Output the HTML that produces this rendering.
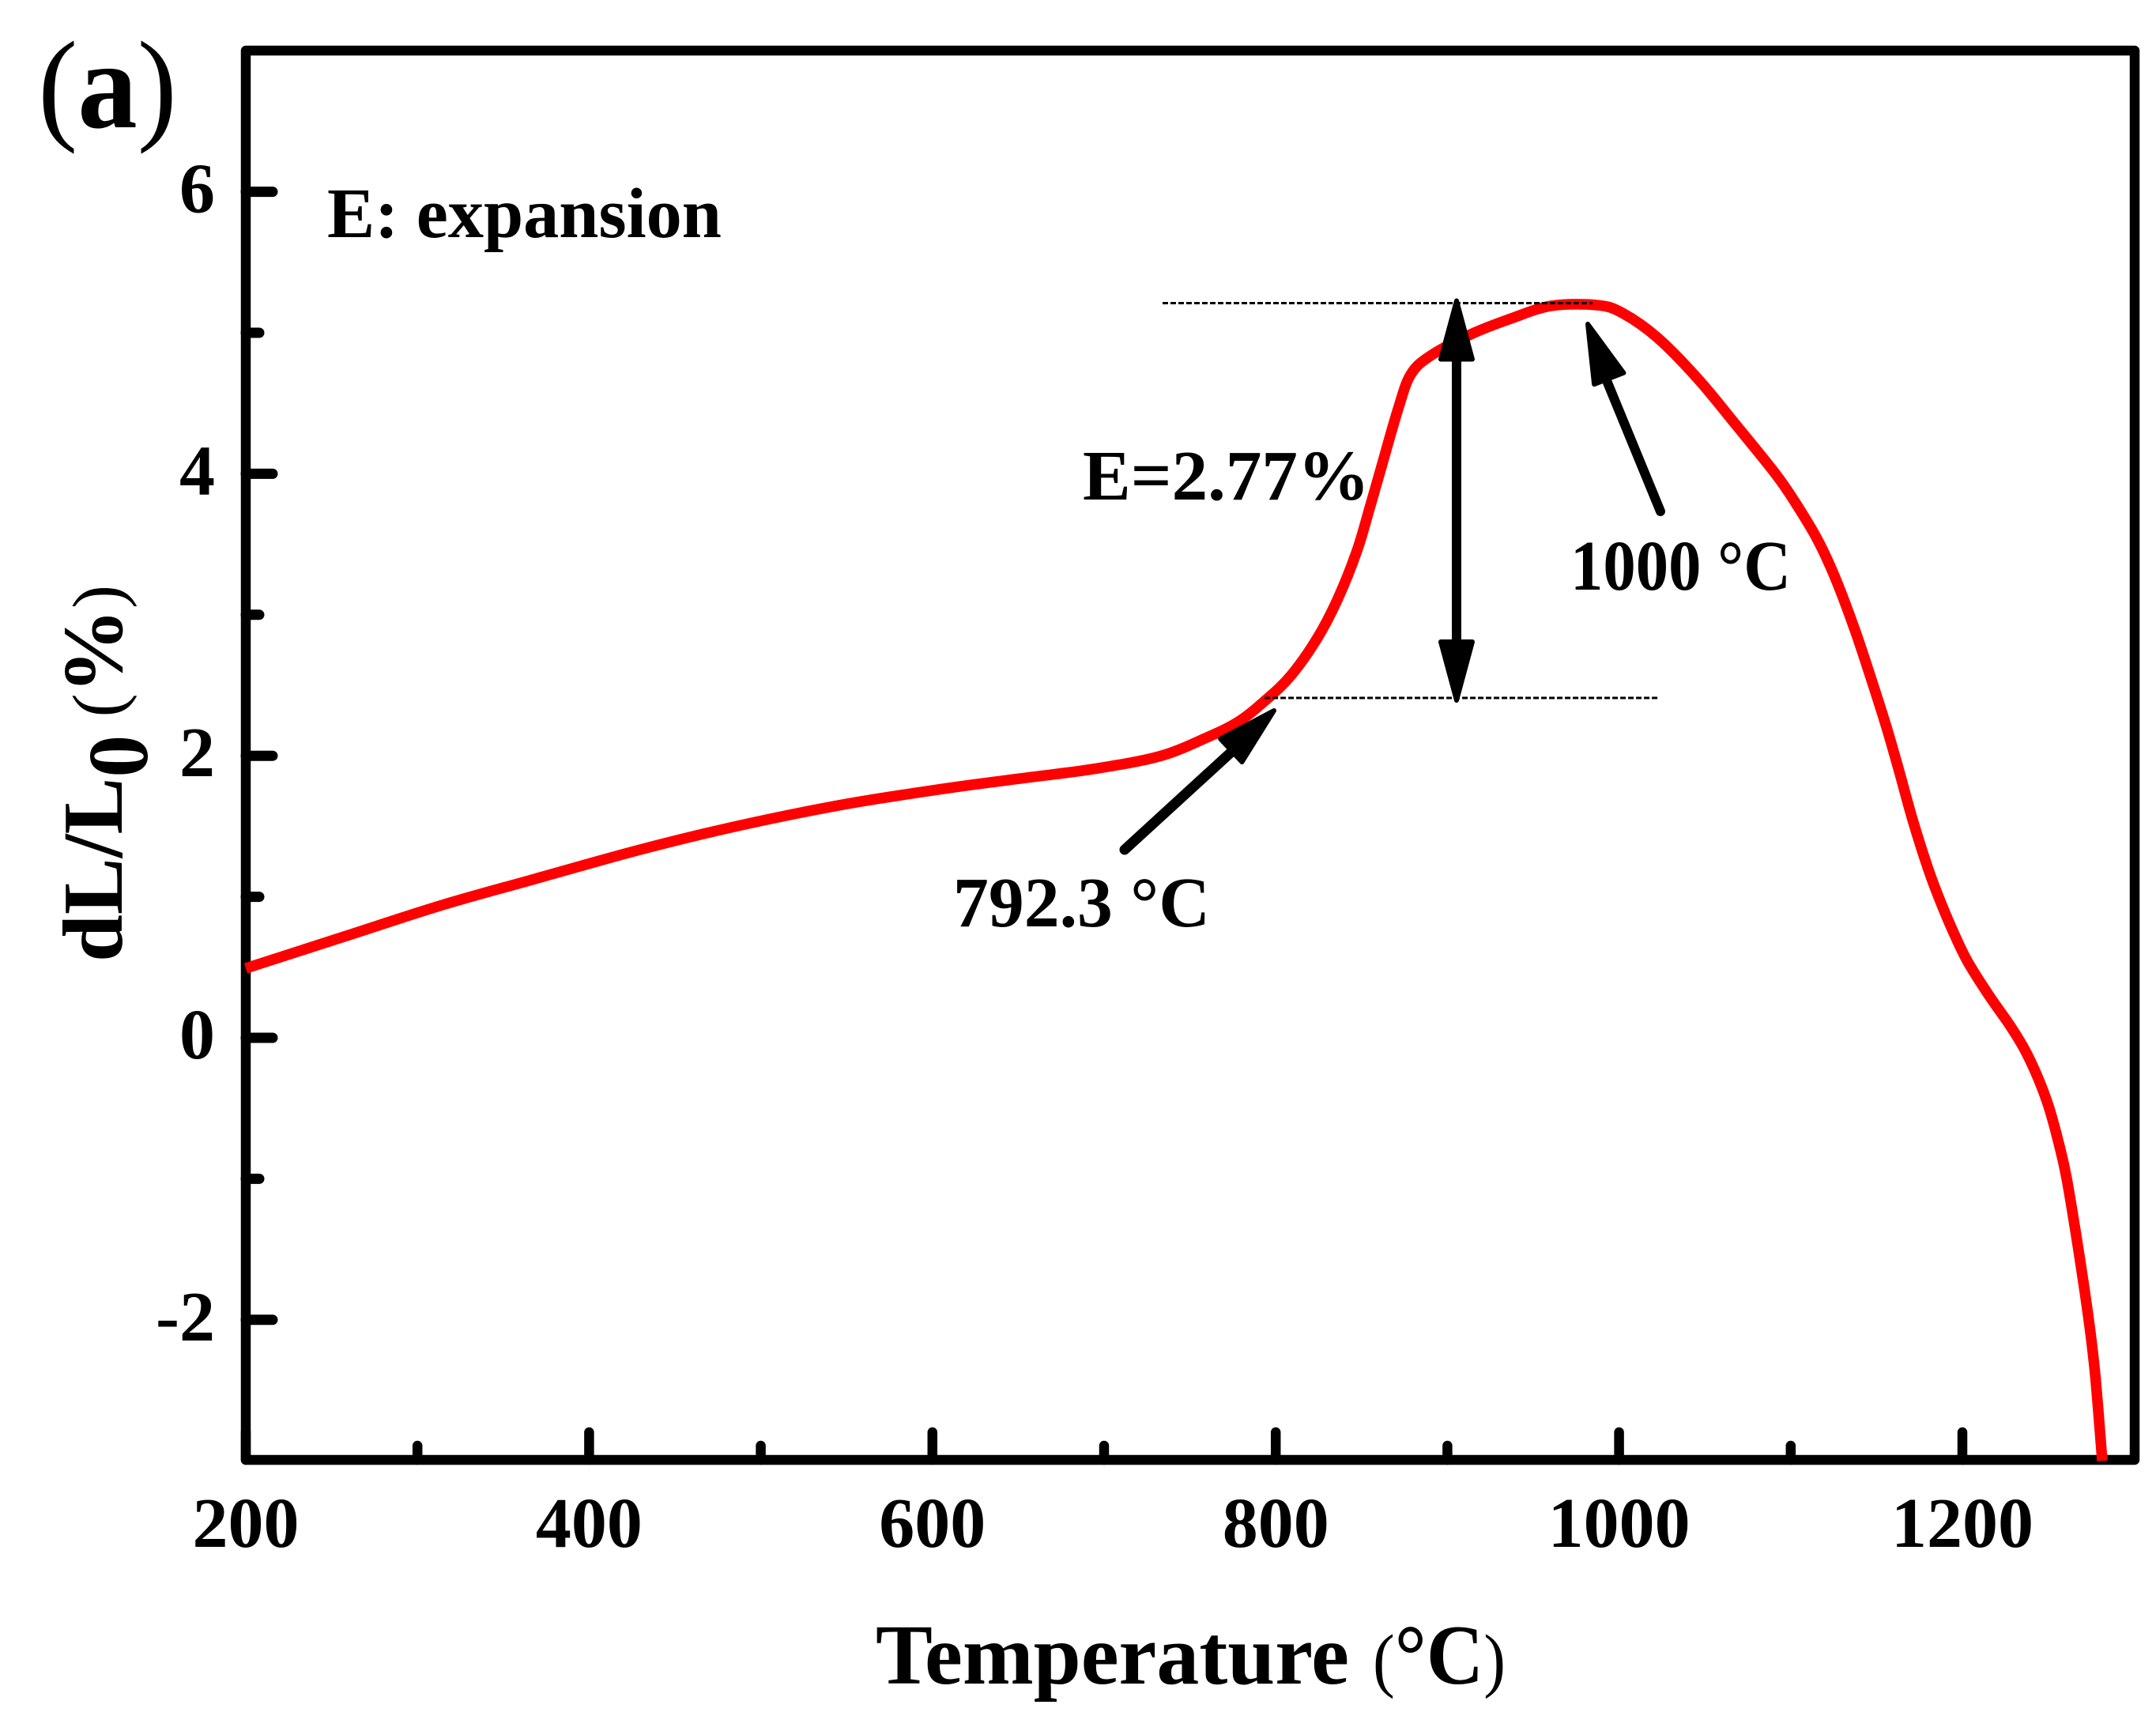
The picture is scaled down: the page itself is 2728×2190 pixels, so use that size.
<!DOCTYPE html>
<html>
<head>
<meta charset="utf-8">
<style>
html,body{margin:0;padding:0;background:#fff;}
svg{display:block;}
text{font-family:"Liberation Serif",serif;font-weight:bold;fill:#000;}
</style>
</head>
<body>
<svg id="chart" width="2728" height="2190" viewBox="0 0 2728 2190" xmlns="http://www.w3.org/2000/svg">
<rect x="0" y="0" width="2728" height="2190" fill="#fff"/>
<g id="ticks"></g>
<g id="tickLabels"></g>
<rect x="311" y="64" width="2390" height="1783" fill="none" stroke="#000" stroke-width="12.5" stroke-linejoin="round"/>
<path id="curve" fill="none" stroke="#ff0000" stroke-width="13.5" stroke-linejoin="round"/>
<g id="annotations"></g>
<text x="48" y="161" font-size="158" textLength="176" lengthAdjust="spacingAndGlyphs"><tspan font-weight="normal">(</tspan>a<tspan font-weight="normal">)</tspan></text>
<text x="414" y="300" font-size="90" textLength="499" lengthAdjust="spacingAndGlyphs">E: expansion</text>
<text x="1370" y="632" font-size="90" textLength="363" lengthAdjust="spacingAndGlyphs">E=2.77%</text>
<text x="1987" y="746" font-size="90" textLength="279" lengthAdjust="spacingAndGlyphs">1000 °C</text>
<text x="1206" y="1172" font-size="90" textLength="325" lengthAdjust="spacingAndGlyphs">792.3 °C</text>
<text x="1108" y="2130" font-size="108" textLength="599" lengthAdjust="spacingAndGlyphs">Temperature</text>
<text x="1737" y="2130" font-size="108" textLength="168" lengthAdjust="spacingAndGlyphs"><tspan font-size="90" font-weight="normal">(</tspan>°C<tspan font-size="90" font-weight="normal">)</tspan></text>
<text transform="translate(154,1217) rotate(-90)" font-size="108" textLength="477" lengthAdjust="spacingAndGlyphs">dL/L<tspan dy="32">0</tspan><tspan dy="-32" font-size="90" font-weight="normal"> (</tspan>%<tspan font-size="90" font-weight="normal">)</tspan></text>
</svg>
<script>
var temperatures = [200,257.1,314.6,368.5,429.7,486.4,548,609.3,655.3,693.6,732.2,759.9,778.3,793.5,808.7,824.3,836.3,847.3,854.7,861.6,871.3,878.6,890.2,913.6,937.1,960.6,987.3,1002,1022.3,1045.8,1068.3,1091.3,1103.3,1115.7,1126.3,1137.4,1146.6,1155.8,1163.2,1171,1180.2,1187.1,1194.9,1203.2,1215.7,1227.6,1236.8,1244.7,1250.6,1256.2,1260.8,1268.1,1274,1277.5,1281.5];
var expansionValues = [0.493,0.717,0.942,1.127,1.334,1.502,1.654,1.771,1.845,1.906,1.996,2.13,2.242,2.388,2.567,2.836,3.117,3.453,3.756,4.05,4.46,4.703,4.837,4.989,5.101,5.191,5.196,5.14,4.966,4.675,4.344,3.997,3.784,3.531,3.251,2.892,2.556,2.203,1.89,1.547,1.194,0.97,0.746,0.538,0.297,0.09,-0.095,-0.303,-0.5,-0.75,-1.0,-1.541,-2.035,-2.405,-3.0];
var xMajorTicks = [200,400,600,800,1000,1200];
var xMinorTicks = [300,500,700,900,1100];
var yMajorTicks = [-2,0,2,4,6];
var yMinorTicks = [-1,1,3,5];
var onsetTemperature = 793.5;
var onsetValue = 2.41;
var peakValue = 5.21;

var NS = 'http://www.w3.org/2000/svg';
function xAxis(t){ return 311 + (t - 200) * 2.172; }
function yAxis(v){ return 1313 - v * 178.4; }

function makeEl(parent, tag){
  var el = document.createElementNS(NS, tag);
  parent.appendChild(el);
  return el;
}
function line(parent, x1, y1, x2, y2, w, cap){
  var el = makeEl(parent, 'line');
  el.setAttribute('x1', x1);
  el.setAttribute('y1', y1);
  el.setAttribute('x2', x2);
  el.setAttribute('y2', y2);
  el.setAttribute('stroke', '#000');
  el.setAttribute('stroke-width', w);
  el.setAttribute('stroke-linecap', cap);
  return el;
}

// curve
var pts = temperatures.map(function(t, i){ return [xAxis(t), yAxis(expansionValues[i])]; });
var d = 'M' + pts[0][0] + ' ' + pts[0][1];
for (var i = 0; i < pts.length - 1; i++) {
  var p0 = pts[Math.max(i - 1, 0)], p1 = pts[i], p2 = pts[i + 1], p3 = pts[Math.min(i + 2, pts.length - 1)];
  d += ' C' + (p1[0] + (p2[0] - p0[0]) / 6) + ' ' + (p1[1] + (p2[1] - p0[1]) / 6) + ' ' +
       (p2[0] - (p3[0] - p1[0]) / 6) + ' ' + (p2[1] - (p3[1] - p1[1]) / 6) + ' ' + p2[0] + ' ' + p2[1];
}
document.getElementById('curve').setAttribute('d', d);

// ticks
var tg = document.getElementById('ticks');
var lg = document.getElementById('tickLabels');
xMajorTicks.forEach(function(t){
  var el = line(tg, xAxis(t), 1847, xAxis(t), 1812, 12.5, 'round');
  
  
  var tx = makeEl(lg, 'text');
  
  
  tx.setAttribute('x', xAxis(t));
  tx.setAttribute('y', 1957);
  tx.setAttribute('font-size', 90);
  tx.setAttribute('text-anchor', 'middle');
  tx.textContent = t;
});
xMinorTicks.forEach(function(t){
  var el = line(tg, xAxis(t), 1847, xAxis(t), 1829, 12.5, 'round');
  
  
});
yMajorTicks.forEach(function(v){
  var el = line(tg, 311, yAxis(v), 345, yAxis(v), 13, 'round');
  
  
  var tx = makeEl(lg, 'text');
  
  
  tx.setAttribute('x', 272);
  tx.setAttribute('y', yAxis(v) + 26);
  tx.setAttribute('font-size', 90);
  tx.setAttribute('text-anchor', 'end');
  tx.textContent = v;
});
yMinorTicks.forEach(function(v){
  var el = line(tg, 311, yAxis(v), 328, yAxis(v), 13, 'round');
  
  
});

// annotations
var ag = document.getElementById('annotations');
function arrowHead(tipX, tipY, tailX, tailY, name){
  var dx = tailX - tipX, dy = tailY - tipY, len = Math.sqrt(dx * dx + dy * dy);
  var ux = dx / len, uy = dy / len, hl = 74, hw = 20;
  var bx = tipX + ux * hl, by = tipY + uy * hl;
  var el = makeEl(ag, 'polygon');
  
  
  el.setAttribute('points', tipX + ',' + tipY + ' ' + (bx - uy * hw) + ',' + (by + ux * hw) + ' ' + (bx + uy * hw) + ',' + (by - ux * hw));
  el.setAttribute('fill', '#000');
  el.setAttribute('stroke', '#000');
  el.setAttribute('stroke-width', 6);
  el.setAttribute('stroke-linejoin', 'round');
}
var dashTop = line(ag, 1471, yAxis(peakValue), 2015, yAxis(peakValue), 3, 'butt');
dashTop.setAttribute('stroke-dasharray', '7 3');


var dashBottom = line(ag, xAxis(onsetTemperature), yAxis(onsetValue), 2100, yAxis(onsetValue), 3, 'butt');
dashBottom.setAttribute('stroke-dasharray', '7 3');



var span = line(ag, 1843, 400, 1843, 860, 12, 'butt');


arrowHead(1843, yAxis(peakValue) - 3, 1843, 860, 'expansion-span-arrow-top');
arrowHead(1843, yAxis(onsetValue) + 3, 1843, 400, 'expansion-span-arrow-bottom');

var peakShaft = line(ag, 2101, 647, 2020, 450, 12, 'round');


arrowHead(2009, 410, 2101, 647, 'peak-arrow-head');

var onsetShaft = line(ag, 1423, 1075, 1565, 945, 13, 'round');


arrowHead(1612, 899, 1423, 1075, 'onset-arrow-head');
</script>
</body>
</html>
